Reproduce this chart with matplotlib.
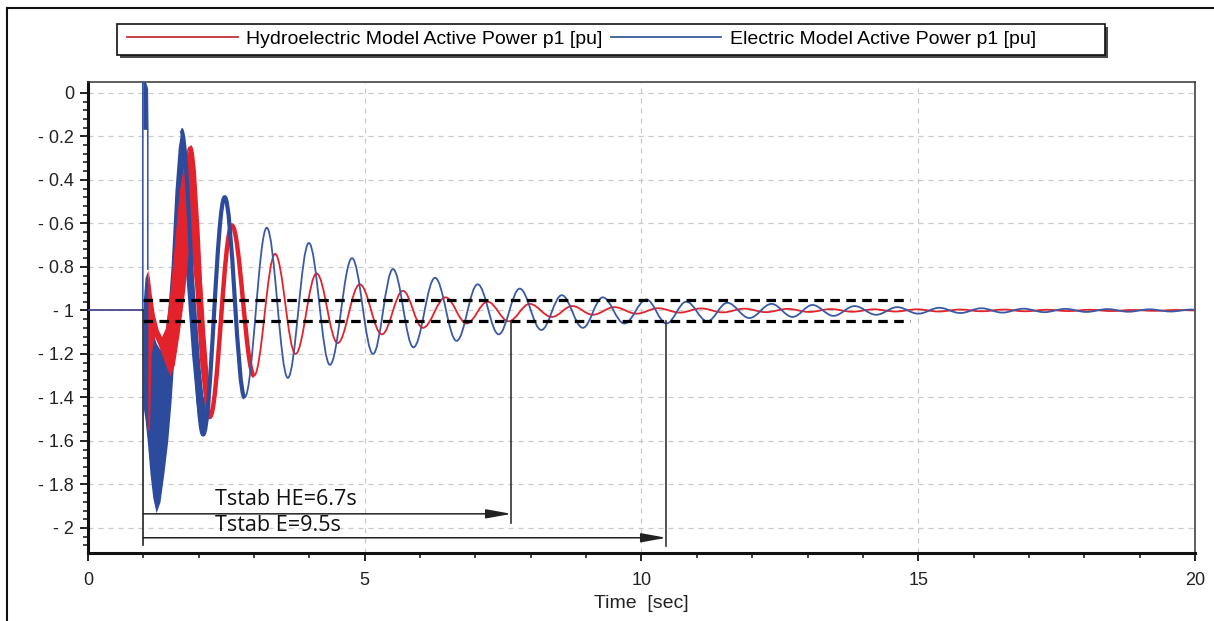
import matplotlib
matplotlib.use("Agg")
import matplotlib.pyplot as plt
from matplotlib.path import Path
from matplotlib.patches import PathPatch, Rectangle
from matplotlib.lines import Line2D

# ---------------- data ----------------
# flat pre-fault level
pre_t = [0.0, 0.99]
pre_v = [-1.0, -1.0]

# blue initial spike at fault instant
blue_spike_t = [0.99, 0.99, 1.03, 1.07, 1.08, 1.08]
blue_spike_v = [-1.0, 0.05, 0.05, 0.02, -0.17, -0.81]
blue_spike_fill_t = [1.0, 1.0, 1.03, 1.075, 1.075]
blue_spike_fill_v = [-0.17, 0.05, 0.05, 0.02, -0.17]

# high-frequency burst envelopes (upper / lower)
blue_burst_t = [1.00, 1.03, 1.07, 1.12, 1.17, 1.23, 1.30, 1.37, 1.44, 1.50, 1.57, 1.63, 1.68,
                1.74, 1.80, 1.87, 1.95, 2.02, 2.08, 2.15]
blue_burst_up = [-0.95, -0.85, -0.82, -0.95, -1.10, -1.15, -1.18, -1.15, -1.00, -0.80, -0.45, -0.25, -0.17,
                 -0.25, -0.45, -0.75, -1.00, -1.25, -1.40, -1.30]
blue_burst_lo = [-1.45, -1.50, -1.60, -1.75, -1.86, -1.93, -1.88, -1.75, -1.60, -1.42, -1.15, -0.85, -0.70,
                 -0.75, -0.95, -1.20, -1.42, -1.55, -1.57, -1.50]

red_burst_t = [1.08, 1.11, 1.14, 1.20, 1.27, 1.33, 1.40, 1.48, 1.56, 1.65, 1.75, 1.84, 1.93, 2.02, 2.11, 2.20]
red_burst_up = [-0.81, -0.85, -0.92, -1.02, -1.09, -1.12, -1.08, -0.92, -0.70, -0.45, -0.30, -0.25, -0.42, -0.75, -1.10, -1.40]
red_burst_lo = [-1.55, -1.55, -1.20, -1.12, -1.16, -1.20, -1.25, -1.30, -1.25, -1.10, -0.90, -0.65, -0.90, -1.25, -1.45, -1.49]

# oscillation extremes (time [s], power [pu])
blue_t = [1.245, 1.68, 2.08, 2.47, 2.83, 3.23, 3.61, 3.99, 4.37, 4.77, 5.15, 5.51, 5.88,
          6.27, 6.66, 7.04, 7.42, 7.80, 8.19, 8.56, 8.94, 9.30, 9.69, 10.09, 10.45,
          10.81, 11.19, 11.55, 11.95, 12.35, 12.73, 13.09, 13.47, 13.85, 14.24, 14.62,
          15.00, 15.38, 15.76, 16.14, 16.52, 16.90, 17.28, 17.66, 18.04, 18.42, 18.80,
          19.18, 19.56, 19.94, 20.0]
blue_v = [-1.93, -0.17, -1.57, -0.48, -1.40, -0.62, -1.31, -0.69, -1.25, -0.76, -1.20, -0.81, -1.17,
          -0.85, -1.14, -0.88, -1.11, -0.90, -1.09, -0.93, -1.08, -0.94, -1.06, -0.95, -1.06,
          -0.96, -1.05, -0.965, -1.035, -0.97, -1.03, -0.975, -1.025, -0.98, -1.02, -0.985,
          -1.015, -0.988, -1.012, -0.99, -1.01, -0.992, -1.008, -0.993, -1.007, -0.994, -1.006,
          -0.995, -1.005, -0.996, -0.997]

red_t = [1.38, 1.84, 2.20, 2.60, 3.00, 3.38, 3.75, 4.13, 4.51, 4.91, 5.31, 5.69, 6.05,
         6.46, 6.84, 7.22, 7.60, 7.98, 8.38, 8.75, 9.12, 9.51, 9.91, 10.30, 10.69,
         11.08, 11.47, 11.86, 12.25, 12.64, 13.03, 13.42, 13.81, 14.20, 14.59, 14.98,
         15.37, 15.76, 16.15, 16.54, 16.93, 17.32, 17.71, 18.10, 18.49, 18.88, 19.27,
         19.66, 20.0]
red_v = [-1.20, -0.25, -1.49, -0.61, -1.30, -0.74, -1.20, -0.83, -1.15, -0.88, -1.11, -0.91, -1.08,
         -0.94, -1.06, -0.96, -1.05, -0.97, -1.03, -0.98, -1.02, -0.985, -1.015, -0.99, -1.01,
         -0.991, -1.009, -0.992, -1.008, -0.993, -1.007, -0.994, -1.006, -0.995, -1.005, -0.995,
         -1.005, -0.996, -1.004, -0.996, -1.004, -0.997, -1.003, -0.997, -1.003, -0.998, -1.002,
         -0.998, -1.0]

# stabilisation band and annotations
band_levels = [-0.95, -1.05]
band_t = [1.0, 14.85]
fault_t = 1.0
tstab_he_end = 7.65
tstab_e_end = 10.45
tstab_labels = ["Tstab HE=6.7s", "Tstab E=9.5s"]

x_ticks = [0, 5, 10, 15, 20]
x_ticklabels = ["0", "5", "10", "15", "20"]
y_ticks = [0, -0.2, -0.4, -0.6, -0.8, -1.0, -1.2, -1.4, -1.6, -1.8, -2.0]
y_ticklabels = ["0", "- 0.2", "- 0.4", "- 0.6", "- 0.8", "- 1", "- 1.2", "- 1.4", "- 1.6", "- 1.8", "- 2"]
series_names = ["Hydroelectric Model Active Power p1 [pu]", "Electric Model Active Power p1 [pu]"]

RED = "#e4222c"
BLUE = "#2d4b9c"
BLUE_THIN = "#3b5aa6"

plt.rcParams['font.family'] = ['Liberation Sans', 'DejaVu Sans']

W, H = 1214, 621
fig = plt.figure(figsize=(W / 100, H / 100), dpi=100)
ax = fig.add_axes([0.0725, 0.1095, 0.9118, 0.7585])
ax.set_xlim(0, 20)
ax.set_ylim(-2.115, 0.05)


def osc_path(ts, vs, k=0.3642):
    verts = [(ts[0], vs[0])]
    codes = [Path.MOVETO]
    for i in range(1, len(ts)):
        t0, v0, t1, v1 = ts[i - 1], vs[i - 1], ts[i], vs[i]
        dt = t1 - t0
        verts += [(t0 + k * dt, v0), (t1 - k * dt, v1), (t1, v1)]
        codes += [Path.CURVE4] * 3
    return Path(verts, codes)


# grid
ax.set_axisbelow(True)
ax.grid(True, which='major', color='#c9c9c9', linestyle=(0, (4, 4)), linewidth=0.9)

# bursts
ax.fill_between(blue_burst_t, blue_burst_lo, blue_burst_up, color=BLUE, lw=0, zorder=2)
ax.fill_between(red_burst_t, red_burst_lo, red_burst_up, color=RED, lw=0, zorder=2.2)

# red series
ax.plot(pre_t, pre_v, color=RED, lw=1.2, zorder=2.3)
ax.add_patch(PathPatch(osc_path(red_t, red_v), fill=False, edgecolor=RED, lw=1.3, zorder=2.4))
ax.add_patch(PathPatch(osc_path(red_t[1:5], red_v[1:5]), fill=False, edgecolor=RED, lw=3.2, zorder=2.4))

# blue series
ax.plot(pre_t, pre_v, color=BLUE_THIN, lw=1.2, zorder=3)
ax.plot(blue_spike_t, blue_spike_v, color=BLUE_THIN, lw=1.2, zorder=3)
ax.fill(blue_spike_fill_t, blue_spike_fill_v, color=BLUE, lw=0, zorder=3)
ax.add_patch(PathPatch(osc_path(blue_t[1:], blue_v[1:]), fill=False, edgecolor=BLUE_THIN, lw=1.3, zorder=3))
ax.add_patch(PathPatch(osc_path(blue_t[1:5], blue_v[1:5]), fill=False, edgecolor=BLUE, lw=3.0, zorder=3))

# stabilisation band
for lv in band_levels:
    ax.plot(band_t, [lv, lv], color='black', lw=2.3, linestyle=(0, (3, 2)), zorder=4)

# Tstab annotations
y_he = -1.935
y_e = -2.045
ax.plot([fault_t, fault_t], [-1.0, -2.08], color='#222222', lw=1.2, zorder=4)
ax.plot([tstab_he_end, tstab_he_end], [band_levels[1], -1.975], color='#333333', lw=1.2, zorder=4)
ax.plot([tstab_e_end, tstab_e_end], [band_levels[1], -2.085], color='#333333', lw=1.2, zorder=4)
arrow_kw = dict(arrowstyle='-|>,head_length=1.1,head_width=0.2', color='#222222', lw=1.1,
                mutation_scale=14, shrinkA=0, shrinkB=0)
ax.annotate('', xy=(tstab_he_end, y_he), xytext=(fault_t, y_he), arrowprops=arrow_kw, zorder=5)
ax.annotate('', xy=(tstab_e_end, y_e), xytext=(fault_t, y_e), arrowprops=arrow_kw, zorder=5)
ax.text(2.29, -1.895, tstab_labels[0], fontsize=15.5, family=['Open Sans', 'DejaVu Sans'],
        ha='left', va='baseline', color='#111111', zorder=5)
ax.text(2.29, -2.012, tstab_labels[1], fontsize=15.5, family=['Open Sans', 'DejaVu Sans'],
        ha='left', va='baseline', color='#111111', zorder=5)

# axes styling
ax.set_xticks(x_ticks)
ax.set_xticklabels(x_ticklabels)
ax.set_yticks(y_ticks)
ax.set_yticklabels(y_ticklabels)
ax.set_xticks([i for i in range(0, 21)], minor=True)
ax.set_yticks([-i * 0.04 for i in range(0, 53)], minor=True)
ax.tick_params(axis='both', which='major', direction='out', length=6, width=1.4,
               labelsize=13, colors='#222222')
ax.tick_params(axis='x', which='major', pad=8)
ax.tick_params(axis='y', which='major', pad=4)
ax.tick_params(axis='both', which='minor', direction='out', length=3.5, width=1.2, colors='#222222')
for s in ['left', 'bottom']:
    ax.spines[s].set_linewidth(2.2)
    ax.spines[s].set_color('#111111')
for s in ['top', 'right']:
    ax.spines[s].set_linewidth(1.1)
    ax.spines[s].set_color('#333333')
ax.set_xlabel('Time  [sec]', fontsize=14, labelpad=4, color='#222222')

# legend: manual frame with shadow, frameless legend inside
lx0, lx1, ly0, ly1 = 117, 1105, 24, 55
fig.add_artist(Rectangle(((lx0 + 3) / W, 1 - (ly1 + 3) / H), (lx1 - lx0) / W, (ly1 - ly0) / H,
                         transform=fig.transFigure, facecolor='#4a4a4a', edgecolor='none', zorder=1))
fig.add_artist(Rectangle((lx0 / W, 1 - ly1 / H), (lx1 - lx0) / W, (ly1 - ly0) / H,
                         transform=fig.transFigure, facecolor='white', edgecolor='#111111',
                         lw=1.2, zorder=1.1))
handles = [Line2D([], [], color='#c0303a', lw=1.3), Line2D([], [], color='#3a5a9c', lw=1.3)]
leg = fig.legend(handles, series_names, loc='center left',
                 bbox_to_anchor=((lx0 + 4) / W, 1 - ((ly0 + ly1) / 2) / H),
                 bbox_transform=fig.transFigure, ncol=2, fontsize=14, frameon=False,
                 handlelength=5.7, handletextpad=0.45, columnspacing=0.4, borderpad=0.3,
                 borderaxespad=0)

# outer frame (left and top edges visible)
fig.add_artist(Line2D([7 / W, 7 / W], [0, 1 - 8 / H], transform=fig.transFigure,
                      color='#111111', lw=1.5))
fig.add_artist(Line2D([7 / W, 1], [1 - 8 / H, 1 - 8 / H], transform=fig.transFigure,
                      color='#111111', lw=1.5))

fig.savefig('out.png', dpi=100)
